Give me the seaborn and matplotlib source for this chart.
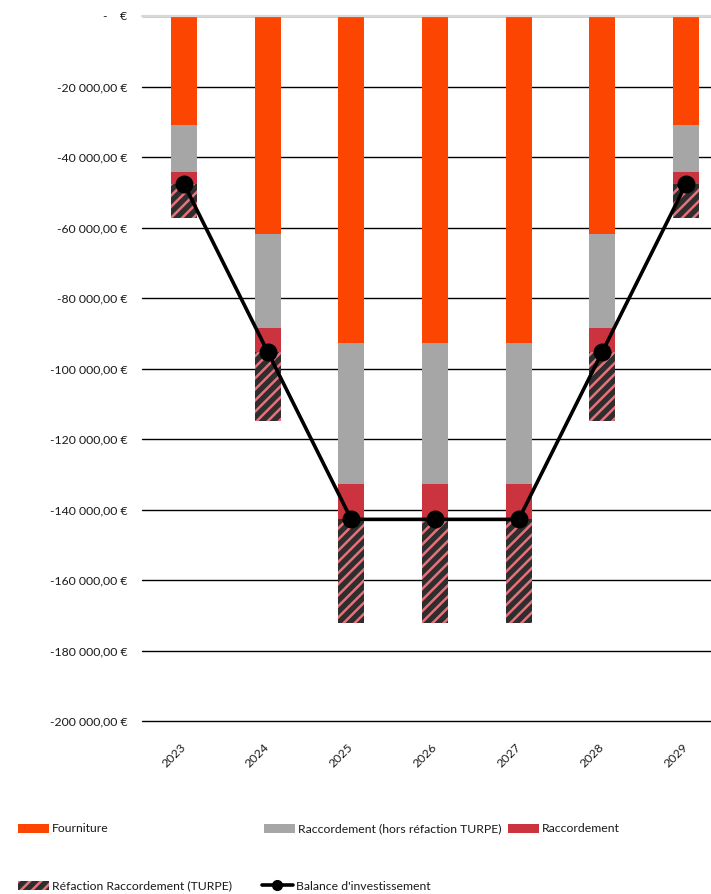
import matplotlib
matplotlib.use("Agg")
import matplotlib.pyplot as plt
import seaborn as sns
import numpy as np
from matplotlib.patches import Patch
from matplotlib.lines import Line2D

# Investment breakdown per year (EUR, negative = expense)
years = ["2023", "2024", "2025", "2026", "2027", "2028", "2029"]
fourniture = [-30900, -61800, -92700, -92700, -92700, -61800, -30900]
raccord_hors_refaction = [-13300, -26600, -40000, -40000, -40000, -26600, -13300]
raccordement = [-3400, -6800, -10100, -10100, -10100, -6800, -3400]
refaction_turpe = [-9700, -19600, -29400, -29400, -29400, -19600, -9700]
balance = [-47600, -95200, -142800, -142800, -142800, -95200, -47600]

y_ticks = list(range(0, -200001, -20000))

series_labels = ["Fourniture", "Raccordement (hors réfaction TURPE)", "Raccordement",
                 "Réfaction Raccordement (TURPE)", "Balance d'investissement"]
c_fourniture = "#fb4500"
c_gray = "#a6a6a6"
c_red = "#cb333e"
c_hatch_bg = "#2e2e2e"
c_hatch_fg = "#e8707a"
c_text = "#1a1a1a"

sns.set_theme(style="white")
plt.rcParams["font.family"] = ["Lato", "DejaVu Sans"]
plt.rcParams["hatch.linewidth"] = 1.8

W, H = 711, 894
fig = plt.figure(figsize=(W / 100, H / 100), dpi=100)
ax = fig.add_axes([142 / W, 173 / H, (728 - 142) / W, (721 - 16) / H])

# Stacked bars: draw cumulative totals from the deepest layer upward
layers = [fourniture, raccord_hors_refaction, raccordement, refaction_turpe]
cum = np.cumsum(np.array(layers), axis=0)
colors = [c_fourniture, c_gray, c_red, c_hatch_bg]
bar_w = 0.31
for i in range(3, -1, -1):
    n_before = len(ax.patches)
    sns.barplot(x=years, y=cum[i], color=colors[i], width=bar_w, saturation=1,
                errorbar=None, linewidth=0, ax=ax)
    if i == 3:
        for p in ax.patches[n_before:]:
            p.set_hatch("///")
            p.set_edgecolor(c_hatch_fg)
            p.set_linewidth(0)

sns.pointplot(x=years, y=balance, color="black", markers="o", linestyles="-",
              errorbar=None, markersize=11, linewidth=2.6, ax=ax)
for ln in ax.lines:
    ln.set_zorder(5)
for coll in ax.collections:
    coll.set_zorder(6)

ax.set_xlim(-0.5, len(years) - 0.5)
ax.set_ylim(-200000, 0)
ax.set_yticks(y_ticks)


def euro(v):
    if v == 0:
        return "-    €"
    s = f"{v:,.2f}".replace(",", " ").replace(".", ",")
    return s + " €"


ax.set_yticklabels([euro(v) for v in y_ticks], fontsize=8.8, color=c_text)
ax.tick_params(axis="y", length=0, pad=10.5)
ax.tick_params(axis="x", length=0, pad=17.5)
plt.setp(ax.get_xticklabels(), rotation=45, ha="right", va="center",
         rotation_mode="anchor", fontsize=8.8, color=c_text)
ax.set_xlabel("")
ax.set_ylabel("")

ax.set_axisbelow(True)
ax.yaxis.grid(True, color="black", linewidth=1.0)
ax.xaxis.grid(False)
for gl in ax.get_ygridlines():
    gl.set_clip_on(False)
for s in ax.spines.values():
    s.set_visible(False)
ax.axhline(0, color="#d9d9d9", linewidth=1.6, zorder=1, clip_on=False)

# Legend entries placed individually
handles = [
    Patch(facecolor=c_fourniture, edgecolor="none"),
    Patch(facecolor=c_gray, edgecolor="none"),
    Patch(facecolor=c_red, edgecolor="none"),
    Patch(facecolor=c_hatch_bg, edgecolor=c_hatch_fg, hatch="///", linewidth=0),
    Line2D([0], [0], color="black", linewidth=2.6, marker="o", markersize=7),
]
positions = [(18, 829), (264, 829), (508, 829), (18, 886), (262, 886)]
for h, lab, (px, py) in zip(handles, series_labels, positions):
    fig.legend([h], [lab], loc="center left", bbox_to_anchor=(px / W, 1 - py / H),
               frameon=False, borderpad=0, borderaxespad=0, fontsize=8.8,
               handlelength=2.5, handleheight=0.75, handletextpad=0.3,
               labelcolor=c_text)

fig.savefig("out.png", dpi=100)
